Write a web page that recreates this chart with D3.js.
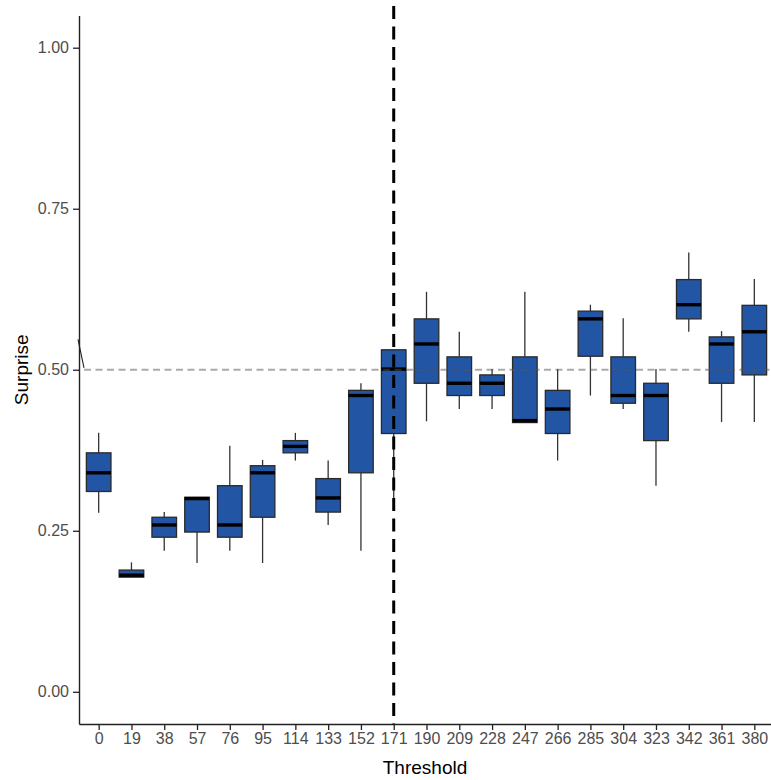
<!DOCTYPE html>
<html>
<head>
<meta charset="utf-8">
<script src="https://cdn.jsdelivr.net/npm/d3@7"></script>
<style>
  body { margin: 0; background: #fff; }
  svg { display: block; font-family: "Liberation Sans", Arial, sans-serif; }
</style>
</head>
<body>
<svg width="771" height="780"></svg>
<script>
const thresholds = [0, 19, 38, 57, 76, 95, 114, 133, 152, 171, 190, 209, 228, 247, 266, 285, 304, 323, 342, 361, 380];
const whiskerLow  = [.278, .178, .219, .200, .219, .200, .359, .259, .219, .300, .420, .439, .439, .418, .359, .460, .439, .320, .559, .419, .419];
const lowerHinge  = [.311, .178, .240, .248, .240, .271, .371, .279, .340, .401, .479, .460, .460, .418, .401, .521, .448, .390, .579, .479, .492];
const medians     = [.340, .181, .259, .300, .259, .340, .381, .301, .460, .501, .540, .479, .479, .421, .439, .579, .460, .460, .601, .540, .559];
const upperHinge  = [.371, .189, .271, .302, .320, .351, .390, .331, .468, .531, .579, .520, .492, .520, .468, .591, .520, .479, .640, .551, .600];
const whiskerHigh = [.402, .201, .279, .302, .382, .360, .402, .359, .479, .531, .621, .559, .501, .621, .501, .601, .580, .501, .682, .560, .641];
const yTicks = [0, 0.25, 0.5, 0.75, 1];
const refSurprise = 0.5;
const refThreshold = 171;

const boxes = thresholds.map((t, i) => ({
  t: t,
  lo: whiskerLow[i],
  q1: lowerHinge[i],
  med: medians[i],
  q3: upperHinge[i],
  hi: whiskerHigh[i]
}));

const svg = d3.select('svg');
const padLeft = 79, padRight = 774, padTop = 15.5, padBottom = 724;

const x = d3.scalePoint()
  .domain(thresholds)
  .range([padLeft, padRight])
  .padding(0.6);

const y = d3.scaleLinear()
  .domain([-0.05, 1.05])
  .range([padBottom, padTop]);

const boxW = x.step() * 0.75;

// axes
const yAxis = svg.append('g')
  .attr('transform', `translate(${padLeft},0)`)
  .call(d3.axisLeft(y).tickValues(yTicks).tickFormat(d3.format('.2f'))
    .tickSizeInner(6).tickSizeOuter(0).tickPadding(4));

const xAxis = svg.append('g')
  .attr('transform', `translate(0,${padBottom})`)
  .call(d3.axisBottom(x).tickSizeInner(6).tickSizeOuter(0).tickPadding(3));

[yAxis, xAxis].forEach(a => {
  a.select('.domain').attr('stroke', '#222').attr('stroke-width', 1.4);
  a.selectAll('.tick line').attr('stroke', '#222').attr('stroke-width', 1.3);
  a.selectAll('.tick text')
    .attr('fill', '#4d4d4d')
    .style('font-size', '16px')
    .style('font-family', '"Liberation Sans", Arial, sans-serif');
});

// boxes
const g = svg.append('g');
const bg = g.selectAll('g')
  .data(boxes)
  .enter()
  .append('g');

bg.append('line')
  .attr('x1', d => x(d.t)).attr('x2', d => x(d.t))
  .attr('y1', d => y(d.hi)).attr('y2', d => y(d.q3))
  .attr('stroke', '#333').attr('stroke-width', 1.3);

bg.append('line')
  .attr('x1', d => x(d.t)).attr('x2', d => x(d.t))
  .attr('y1', d => y(d.q1)).attr('y2', d => y(d.lo))
  .attr('stroke', '#333').attr('stroke-width', 1.3);

bg.append('rect')
  .attr('x', d => x(d.t) - boxW / 2)
  .attr('width', boxW)
  .attr('y', d => y(d.q3))
  .attr('height', d => y(d.q1) - y(d.q3))
  .attr('fill', '#2255a4')
  .attr('stroke', '#2a2a2a')
  .attr('stroke-width', 1.3);

bg.append('line')
  .attr('x1', d => x(d.t) - boxW / 2).attr('x2', d => x(d.t) + boxW / 2)
  .attr('y1', d => y(d.med)).attr('y2', d => y(d.med))
  .attr('stroke', '#000').attr('stroke-width', 3.4);

// reference lines
svg.append('line')
  .attr('x1', padLeft + 5).attr('x2', 771)
  .attr('y1', y(refSurprise)).attr('y2', y(refSurprise))
  .attr('stroke', '#555')
  .attr('stroke-opacity', 0.5)
  .attr('stroke-width', 2)
  .attr('stroke-dasharray', '7,4.5');

svg.append('line')
  .attr('x1', padLeft - 1).attr('x2', padLeft + 5)
  .attr('y1', y(0.547)).attr('y2', y(0.503))
  .attr('stroke', '#222').attr('stroke-width', 1.1);

svg.append('line')
  .attr('x1', x(refThreshold)).attr('x2', x(refThreshold))
  .attr('y1', 6).attr('y2', padBottom)
  .attr('stroke', '#000')
  .attr('stroke-width', 3)
  .attr('stroke-dasharray', '13,7.5');

// axis titles
svg.append('text')
  .attr('x', (padLeft + 771) / 2)
  .attr('y', 774)
  .attr('text-anchor', 'middle')
  .style('font-size', '19px')
  .attr('fill', '#000')
  .text('Threshold');

svg.append('text')
  .attr('transform', `translate(28,${(padTop + padBottom) / 2}) rotate(-90)`)
  .attr('text-anchor', 'middle')
  .style('font-size', '19px')
  .attr('fill', '#000')
  .text('Surprise');
</script>
</body>
</html>
